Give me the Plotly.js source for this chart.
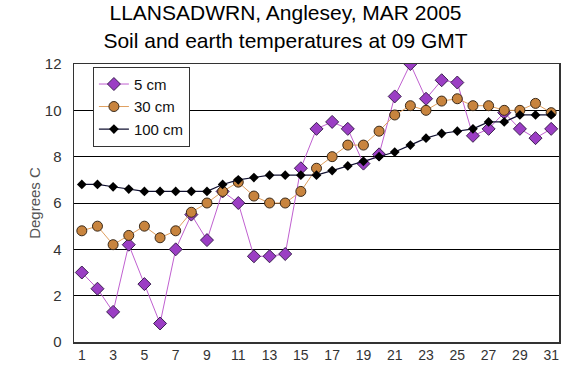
<!DOCTYPE html>
<html>
<head>
<meta charset="utf-8">
<script src="https://cdn.plot.ly/plotly-3.0.1.min.js"></script>
<style>html,body{margin:0;padding:0;background:#fff;}#chart{width:571px;height:378px;}</style>
</head>
<body>
<div id="chart"></div>
<script>
const days = [1,2,3,4,5,6,7,8,9,10,11,12,13,14,15,16,17,18,19,20,21,22,23,24,25,26,27,28,29,30,31];
const cm5 = [3.0,2.3,1.3,4.2,2.5,0.8,4.0,5.5,4.4,6.5,6.0,3.7,3.7,3.8,7.5,9.2,9.5,9.2,7.7,8.1,10.6,12.0,10.5,11.3,11.2,8.9,9.2,9.9,9.2,8.8,9.2];
const cm30 = [4.8,5.0,4.2,4.6,5.0,4.5,4.8,5.6,6.0,6.5,6.9,6.3,6.0,6.0,6.5,7.5,8.0,8.5,8.5,9.1,9.8,10.2,10.0,10.4,10.5,10.2,10.2,10.0,10.0,10.3,9.9];
const cm100 = [6.8,6.8,6.7,6.6,6.5,6.5,6.5,6.5,6.5,6.8,7.0,7.1,7.2,7.2,7.2,7.2,7.4,7.6,7.8,8.0,8.2,8.5,8.8,9.0,9.1,9.2,9.5,9.5,9.8,9.8,9.8];
const seriesNames = ["5 cm","30 cm","100 cm"];
const xTicks = [1,3,5,7,9,11,13,15,17,19,21,23,25,27,29,31];
const yTicks = [0,2,4,6,8,10,12];
const titleLines = ["LLANSADWRN, Anglesey, MAR 2005","Soil and earth temperatures at 09 GMT"];
const yTitle = "Degrees C";

const traces = [
  {x: days, y: cm5, name: seriesNames[0], type: "scatter", mode: "lines+markers",
   line: {color: "#C060D0", width: 1},
   marker: {symbol: "diamond", size: 10, color: "#9B3EC4", line: {color: "#3a2050", width: 1}}},
  {x: days, y: cm30, name: seriesNames[1], type: "scatter", mode: "lines+markers",
   line: {color: "#E0A060", width: 1},
   marker: {symbol: "circle", size: 10, color: "#C8843E", line: {color: "#3a2a1a", width: 1}}},
  {x: days, y: cm100, name: seriesNames[2], type: "scatter", mode: "lines+markers",
   line: {color: "#101030", width: 1.2},
   marker: {symbol: "diamond", size: 7.5, color: "#000000", line: {color: "#000000", width: 0}}}
];

const layout = {
  width: 571, height: 378,
  margin: {l: 74, r: 12, t: 64, b: 36, pad: 0},
  paper_bgcolor: "#ffffff", plot_bgcolor: "#ffffff",
  font: {family: "Liberation Sans, Arial, sans-serif", color: "#222"},
  title: {text: titleLines.join("<br>"), xref: "container", x: 0.5, xanchor: "center",
          yref: "container", y: 0.946, yanchor: "top",
          font: {size: 21, color: "#000", family: "Liberation Sans, Arial, sans-serif"}},
  xaxis: {range: [0.5, 31.5], tickvals: xTicks, ticktext: xTicks.map(String),
          showgrid: false, zeroline: false, showline: true, mirror: true,
          linecolor: "#333", linewidth: 1.5, ticks: "", tickfont: {size: 14, color: "#333"},
          fixedrange: true},
  yaxis: {range: [0, 12], tickvals: yTicks, showgrid: true, gridcolor: "#000", gridwidth: 1,
          zeroline: false, showline: true, mirror: true, linecolor: "#333", linewidth: 1.5,
          ticks: "", ticklabelstandoff: 8, tickfont: {size: 15, color: "#333"},
          title: {text: yTitle, font: {size: 15, color: "#555"}, standoff: 0},
          fixedrange: true},
  legend: {x: 0.039, y: 0.99, xanchor: "left", yanchor: "top",
           bgcolor: "#ffffff", bordercolor: "#333", borderwidth: 1,
           font: {size: 15, color: "#111"}, tracegroupgap: 0, itemwidth: 30},
  showlegend: true
};

Plotly.newPlot("chart", traces, layout, {displayModeBar: false, staticPlot: true});
</script>
</body>
</html>
